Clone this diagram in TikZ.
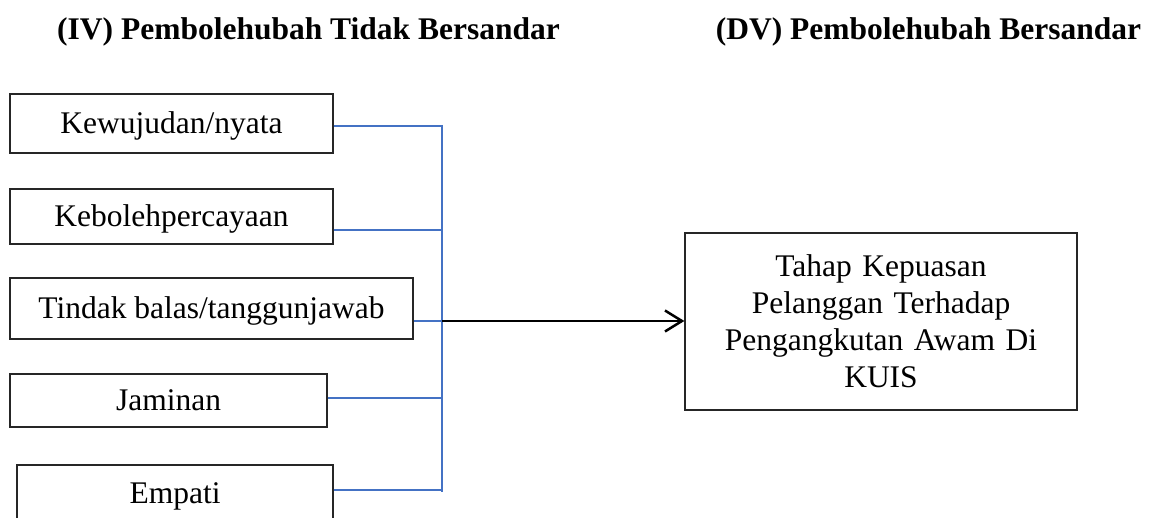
\documentclass[tikz,border=0pt]{standalone}
\usepackage{fontspec}
\setmainfont{Liberation Serif}
\usetikzlibrary{arrows.meta}
\definecolor{wordblue}{RGB}{68,114,196}
\begin{document}
\begin{tikzpicture}[x=1pt,y=1pt,
  every node/.style={font=\fontsize{31.5}{37}\selectfont},
  ivbox/.style={draw=black!85, line width=1.3pt, inner sep=0pt, align=center, text height=21pt, text depth=0pt},
  dvbox/.style={draw=black!85, line width=1.3pt, inner sep=0pt, align=center},
  titletext/.style={font=\fontsize{31.5}{37}\selectfont\bfseries, inner sep=0pt, text height=21pt, text depth=0pt},
  busline/.style={draw=wordblue, line width=2pt},
  mainarrow/.style={draw=black, line width=2.7pt, -{Straight Barb[length=17pt,width=21pt,line width=2.5pt]}}]
\useasboundingbox (0,0) rectangle (1156,518);
\node[titletext] (t1) at (308.5,488.5) {(IV) Pembolehubah Tidak Bersandar};
\node[titletext] (t2) at (928.5,488.5) {(DV) Pembolehubah Bersandar};
\node[ivbox, minimum width=323pt, minimum height=59pt] (b1) at (171.5,394.5) {Kewujudan/nyata};
\node[ivbox, minimum width=323pt, minimum height=55pt] (b2) at (171.5,301.5) {Kebolehpercayaan};
\node[ivbox, minimum width=403pt, minimum height=61pt] (b3) at (211.5,209.5) {Tindak balas/tanggunjawab};
\node[ivbox, minimum width=317pt, minimum height=53pt] (b4) at (168.5,117.5) {Jaminan};
\node[ivbox, minimum width=316pt, minimum height=56pt] (b5) at (175,25) {Empati};
\node[dvbox, minimum width=392pt, minimum height=177pt, text width=380pt] (dv) at (881,196.5) {Tahap Kepuasan\\Pelanggan Terhadap\\Pengangkutan Awam Di\\KUIS};
\coordinate (jtop) at (442,393);
\coordinate (j1) at (442,392);
\coordinate (j2) at (442,288);
\coordinate (j3) at (442,197);
\coordinate (j4) at (442,120);
\coordinate (j5) at (442,28);
\coordinate (jbot) at (442,26);
\draw[busline] (jtop) -- (jbot);
\draw[busline] (b1.east |- j1) -- (j1);
\draw[busline] (b2.east |- j2) -- (j2);
\draw[busline] (b3.east |- j3) -- (j3);
\draw[busline] (b4.east |- j4) -- (j4);
\draw[busline] (b5.east |- j5) -- (j5);
\draw[mainarrow] (j3) -- (dv.west |- j3);
\end{tikzpicture}
\end{document}
